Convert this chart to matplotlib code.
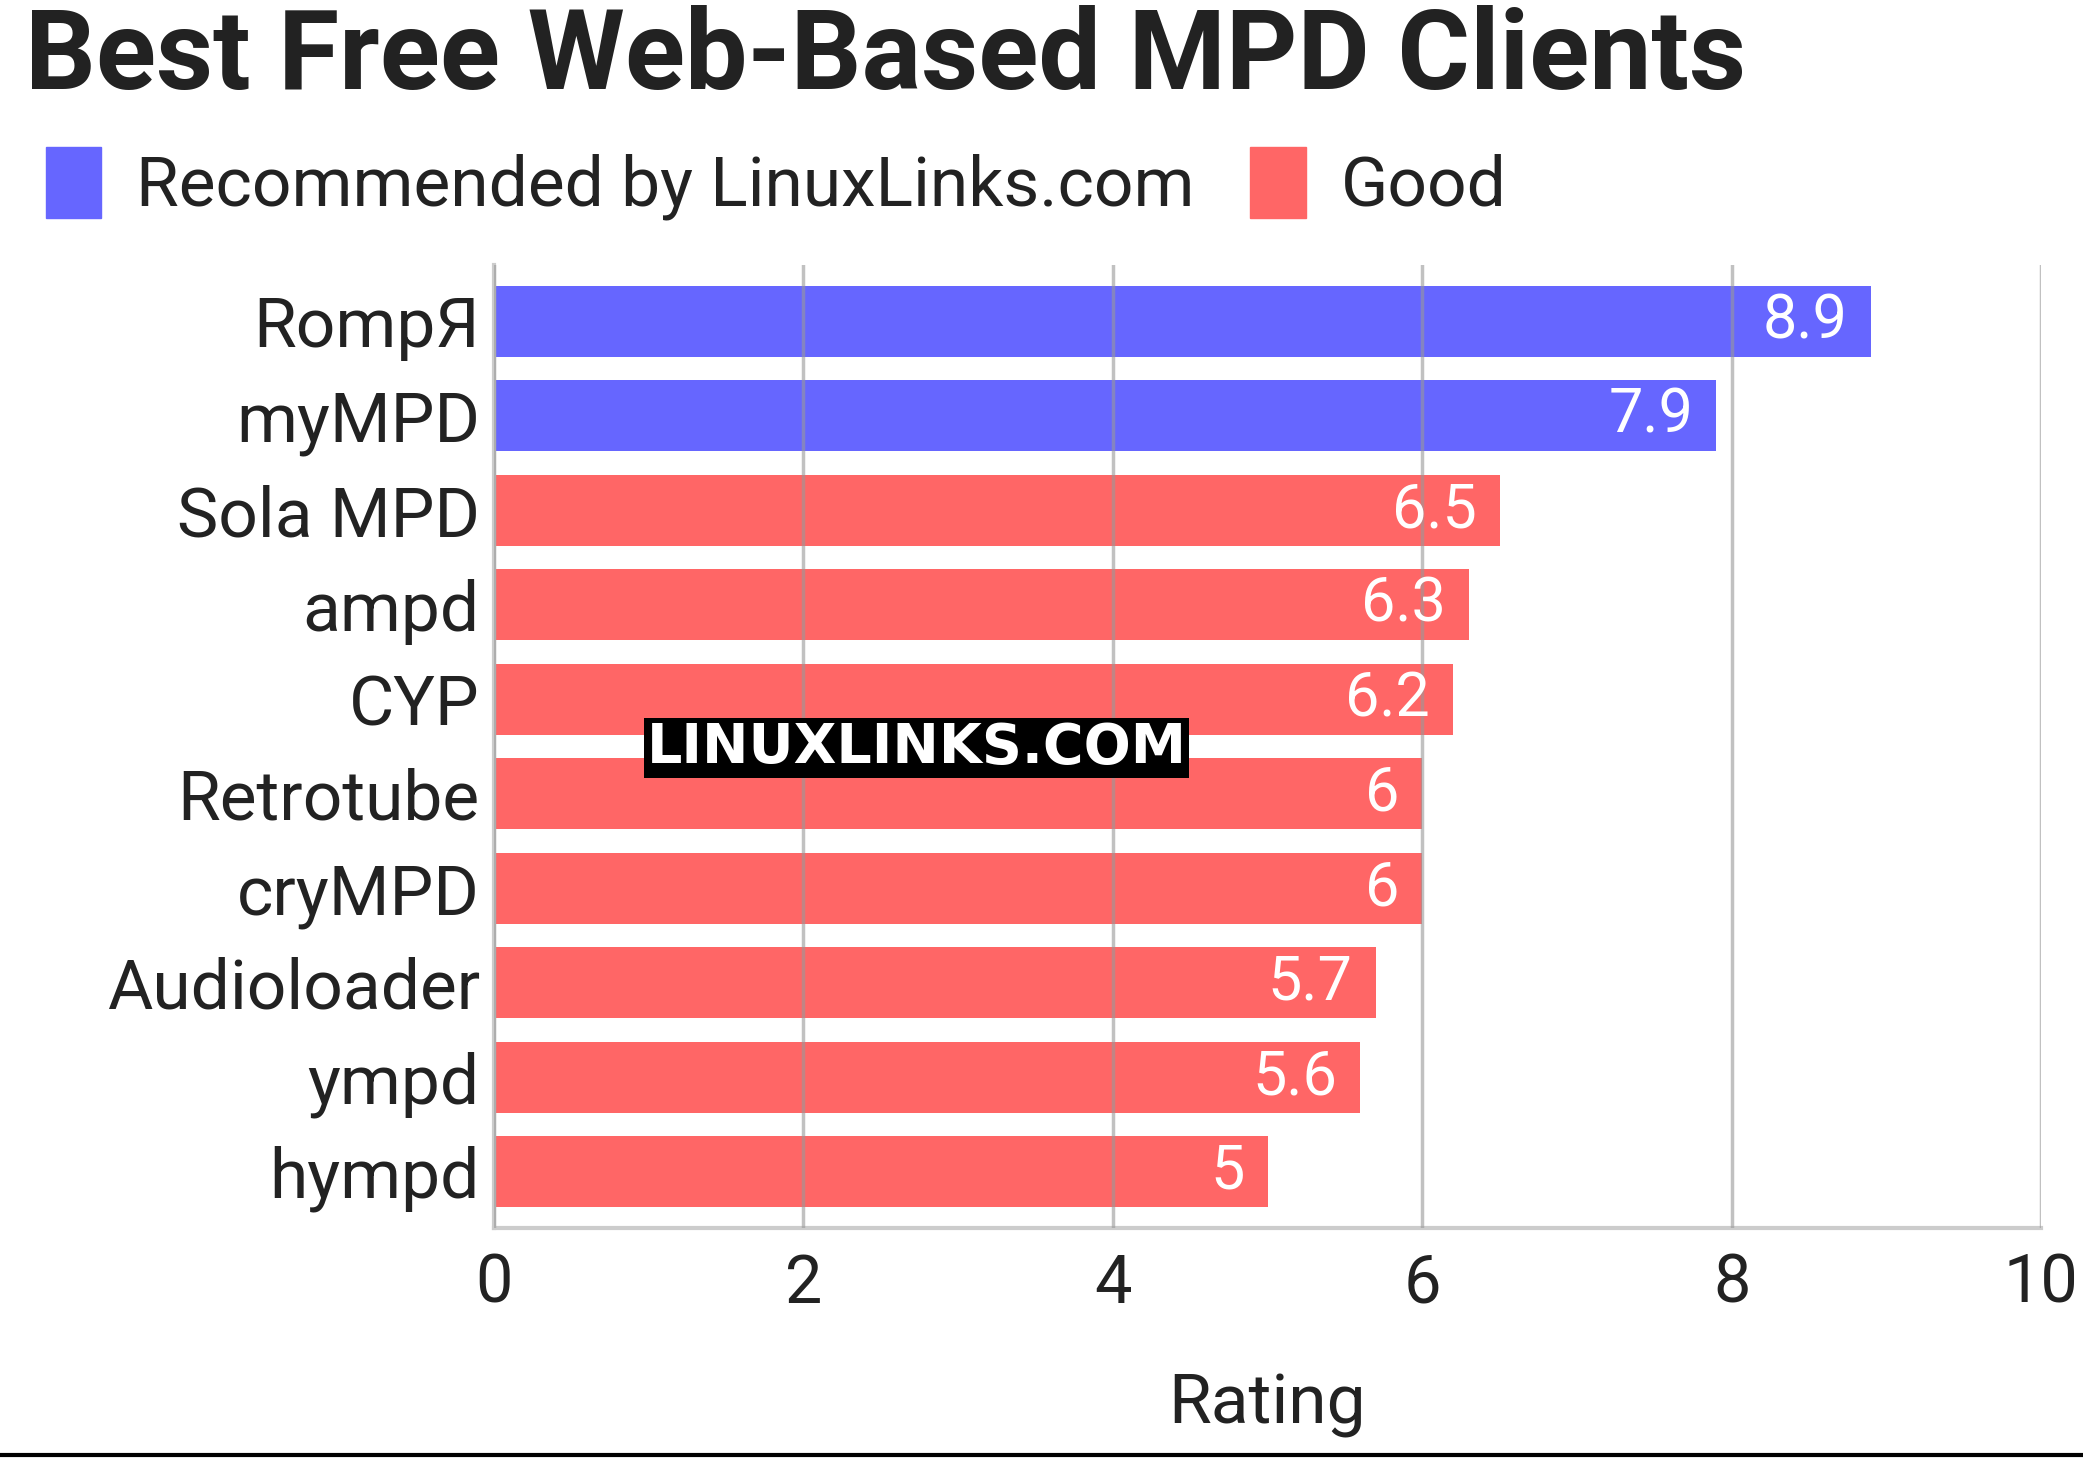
import matplotlib.pyplot as plt
from matplotlib.patches import Patch

plt.rcParams['font.family'] = ['Roboto', 'DejaVu Sans']

names = ["RompЯ", "myMPD", "Sola MPD", "ampd", "CYP", "Retrotube",
         "cryMPD", "Audioloader", "ympd", "hympd"]
ratings = [8.9, 7.9, 6.5, 6.3, 6.2, 6, 6, 5.7, 5.6, 5]
labels = ["8.9", "7.9", "6.5", "6.3", "6.2", "6", "6", "5.7", "5.6", "5"]
groups = ["rec", "rec", "good", "good", "good", "good", "good", "good", "good", "good"]
BLUE, RED = "#6666ff", "#ff6666"

fig = plt.figure(figsize=(20.83, 14.58), dpi=100)
ax = fig.add_axes([0.237, 0.158, 0.743, 0.66])
ys = list(range(len(names)))[::-1]
colors = [BLUE if g == "rec" else RED for g in groups]
ax.barh(ys, ratings, height=0.75, color=colors, zorder=1)
for y, v, t in zip(ys, ratings, labels):
    ax.text(v - 0.15, y, t, ha="right", va="center", color="white", fontsize=44, zorder=3)
ax.set_xlim(0, 10)
ax.set_ylim(-0.59, 9.59)
ax.set_yticks(ys)
ax.set_yticklabels(names, fontsize=50, color="#222222")
ax.set_xticks(range(0, 11, 2))
ax.tick_params(axis="x", labelsize=48, length=0, pad=18, colors="#222222")
ax.tick_params(axis="y", length=0, pad=10)
ax.grid(axis="x", color="#999999", alpha=0.6, lw=2.5, zorder=2)
ax.set_axisbelow(False)
for s in ["top", "right"]:
    ax.spines[s].set_visible(False)
for s in ["left", "bottom"]:
    ax.spines[s].set_color("#cccccc")
    ax.spines[s].set_linewidth(3)
ax.set_xlabel("Rating", fontsize=50, labelpad=40, color="#222222")

fig.text(0.012, 0.96, "Best Free Web-Based MPD Clients", fontsize=80,
         fontweight="bold", va="center", color="#222222")
fig.legend(handles=[Patch(color=BLUE, label="Recommended by LinuxLinks.com"),
                    Patch(color=RED, label="Good")],
           loc="center left", bbox_to_anchor=(-0.008, 0.874), ncol=2, frameon=False,
           fontsize=50, handlelength=0.8, handleheight=1.2, handletextpad=0.5,
           columnspacing=0.8, labelcolor="#222222")
fig.text(0.44, 0.487, "LINUXLINKS.COM", fontsize=40, fontweight="bold",
         color="white", ha="center", va="center", family="DejaVu Sans",
         bbox=dict(facecolor="black", edgecolor="none", pad=2))
fig.add_artist(plt.Line2D([0, 1], [0.002, 0.002], color="black", lw=3))
fig.savefig("out.png", dpi=100)
